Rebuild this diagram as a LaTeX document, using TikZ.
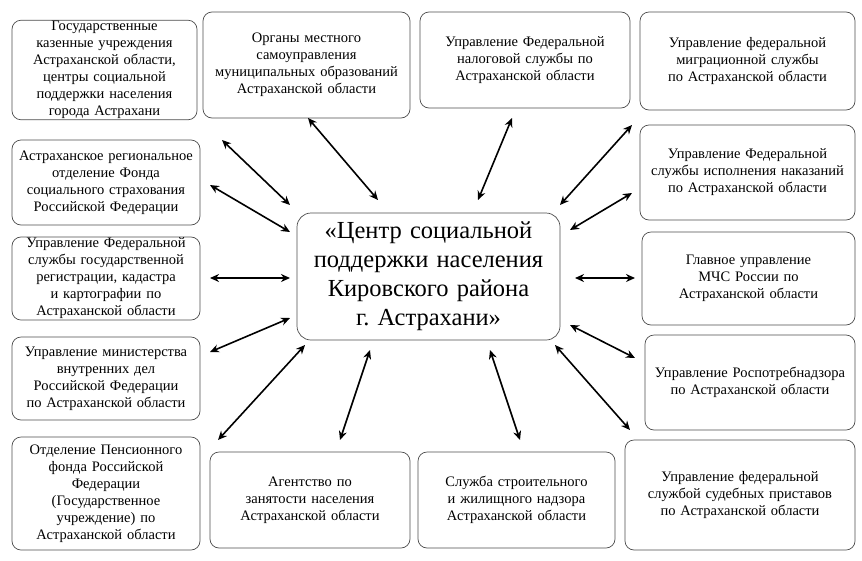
\documentclass[tikz,border=0pt]{standalone}
\usepackage{fontspec}
\setmainfont{Liberation Serif}
\usetikzlibrary{arrows.meta}
\begin{document}
\begin{tikzpicture}[x=1pt,y=-1pt,
 box/.style={draw=black!70,line width=0.7pt,rounded corners=9pt,align=center,font=\fontsize{14.5}{17}\selectfont,inner sep=1pt},
 arr/.style={{Stealth[length=9pt,width=8pt]}-{Stealth[length=9pt,width=8pt]},line width=1.6pt}]
\useasboundingbox (0,0) rectangle (862,560);
\newcommand\bx[6]{\node[box,minimum width=#4-#2,minimum height=#5-#3,text width=#4-#2-8] (#1) at ({(#2+#4)/2},{(#3+#5)/2}) {#6};}
\bx{b1}{12}{22}{197}{118}{Государственные казенные учреждения Астраханской области, центры социальной поддержки населения города Астрахани}
\bx{b2}{203}{12}{410}{118}{Органы местного самоуправления муниципальных образований Астраханской области}
\bx{b3}{420}{12}{630}{108}{Управление Федеральной налоговой службы по Астраханской области}
\bx{b4}{640}{12}{855}{110}{Управление федеральной миграционной службы по Астраханской области}
\bx{b5}{12}{140}{200}{225}{Астраханское региональное отделение Фонда социального страхования Российской Федерации}
\bx{b6}{640}{125}{855}{220}{Управление Федеральной службы исполнения наказаний по Астраханской области}
\bx{b7}{12}{237}{200}{320}{Управление Федеральной службы государственной регистрации, кадастра и картографии по Астраханской области}
\bx{b8}{642}{232}{855}{325}{Главное управление МЧС России по Астраханской области}
\bx{b9}{12}{337}{200}{420}{Управление министерства внутренних дел Российской Федерации по Астраханской области}
\bx{b10}{645}{335}{855}{430}{Управление Роспотребнадзора по Астраханской области}
\bx{b11}{12}{437}{200}{550}{Отделение Пенсионного фонда Российской Федерации (Государственное учреждение) по Астраханской области}
\bx{b12}{210}{452}{410}{548}{Агентство по занятости населения Астраханской области}
\bx{b13}{418}{452}{615}{548}{Служба строительного и жилищного надзора Астраханской области}
\bx{b14}{625}{440}{855}{550}{Управление федеральной службой судебных приставов по Астраханской области}
\node[box,rounded corners=14pt,minimum width=263,minimum height=127,text width=258,font=\fontsize{24.5}{29}\selectfont] (c) at (428.5,276.5) {«Центр социальной поддержки населения Кировского района г.~Астрахани»};
\foreach \a/\b/\c/\d [count=\i] in {222/140/290/205, 308/118/378/200, 512/118/478/200, 632/125/560/205,
 210/185/290/232, 632/193/570/230, 210/278/290/278, 635/278/575/278,
 210/352/290/318, 635/358/570/325, 218/440/305/345, 340/440/370/350,
 520/440/490/350, 630/430/555/345}{
 \coordinate (p\i) at (\a,\b); \coordinate (q\i) at (\c,\d);
 \draw[arr] (p\i) -- (q\i);}
\end{tikzpicture}
\end{document}
